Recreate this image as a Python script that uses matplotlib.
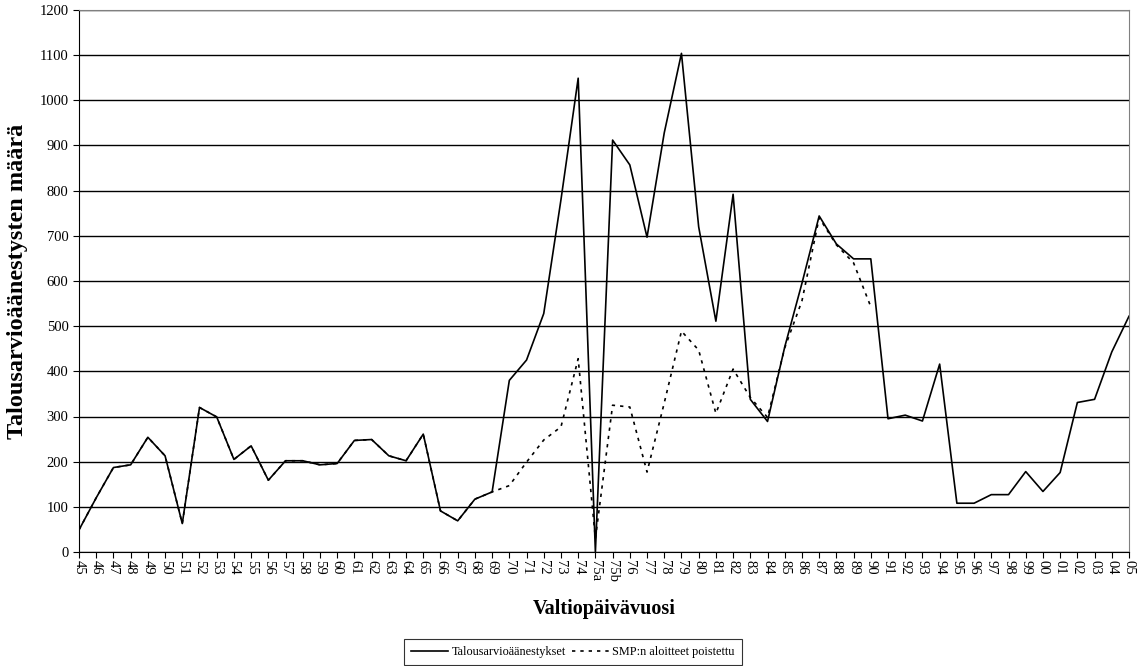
import numpy as np
import matplotlib
matplotlib.use("Agg")
import matplotlib.pyplot as plt

plt.rcParams['font.family'] = ['Liberation Serif', 'DejaVu Serif']

# valtiopäivävuodet (x-akselin luokat)
years = ['45', '46', '47', '48', '49', '50', '51', '52', '53', '54',
         '55', '56', '57', '58', '59', '60', '61', '62', '63', '64',
         '65', '66', '67', '68', '69', '70', '71', '72', '73', '74',
         '75a', '75b', '76', '77', '78', '79', '80', '81', '82', '83',
         '84', '85', '86', '87', '88', '89', '90', '91', '92', '93',
         '94', '95', '96', '97', '98', '99', '00', '01', '02', '03',
         '04', '05']

# talousarvioäänestykset
votes = [49, 120, 187, 193, 254, 213, 63, 320, 299, 205,
         235, 159, 202, 202, 193, 196, 247, 249, 213, 202,
         261, 91, 69, 117, 133, 380, 425, 528, 780, 1049,
         0, 912, 857, 697, 928, 1104, 720, 511, 792, 338,
         289, 454, 595, 744, 682, 649, 649, 295, 303, 290,
         416, 108, 108, 127, 127, 178, 134, 176, 331, 338,
         443, 522]

# SMP:n aloitteet poistettu (sarja loppuu vuoteen 90)
no_smp = [49, 120, 187, 193, 254, 213, 63, 320, 299, 205,
          235, 159, 202, 202, 193, 196, 247, 249, 213, 202,
          261, 91, 69, 117, 133, 147, 199, 248, 277, 428,
          30, 325, 321, 177, 330, 489, 447, 307, 405, 342,
          298, 452, 556, 740, 680, 640, 543, np.nan, np.nan, np.nan,
          np.nan, np.nan, np.nan, np.nan, np.nan, np.nan, np.nan, np.nan, np.nan, np.nan,
          np.nan, np.nan]

x = np.arange(len(years))

fig = plt.figure(figsize=(11.44, 6.66), dpi=100)
ax = fig.add_axes([79 / 1144, 1 - 552 / 666, 1050 / 1144, 542 / 666])

ax.plot(x, votes, color='black', linewidth=1.2, label='Talousarvioäänestykset')
ax.plot(x, no_smp, color='black', linewidth=1.2, linestyle=(0, (2, 3)),
        label='SMP:n aloitteet poistettu')

ax.set_xlim(0, len(years) - 1)
ax.set_ylim(0, 1200)
ax.set_yticks(range(0, 1201, 100))
ax.set_xticks(x)
ax.set_xticklabels(years, rotation=-90, fontsize=10.5)
ax.tick_params(axis='y', labelsize=10.5, length=4, direction='out', width=0.8)
ax.tick_params(axis='x', length=4, direction='out', width=0.8, pad=2)

ax.grid(axis='y', color='black', linewidth=1.0)
ax.set_axisbelow(True)
for side in ['top', 'right']:
    ax.spines[side].set_color('#808080')
for side in ['left', 'bottom']:
    ax.spines[side].set_color('black')

ax.set_xlabel('Valtiopäivävuosi', fontsize=14.5, fontweight='bold', labelpad=12)
ax.set_ylabel('Talousarvioäänestysten määrä', fontsize=17.5, fontweight='bold', labelpad=8)

leg = fig.legend(loc='center', bbox_to_anchor=(573 / 1144, 1 - 652 / 666), ncol=2,
                 fontsize=8.8, frameon=True, fancybox=False, edgecolor='black',
                 handlelength=3.0, columnspacing=0.5, handletextpad=0.3,
                 borderpad=0.6, borderaxespad=0)
leg.get_frame().set_linewidth(0.8)

fig.savefig('out.png', dpi=100)
